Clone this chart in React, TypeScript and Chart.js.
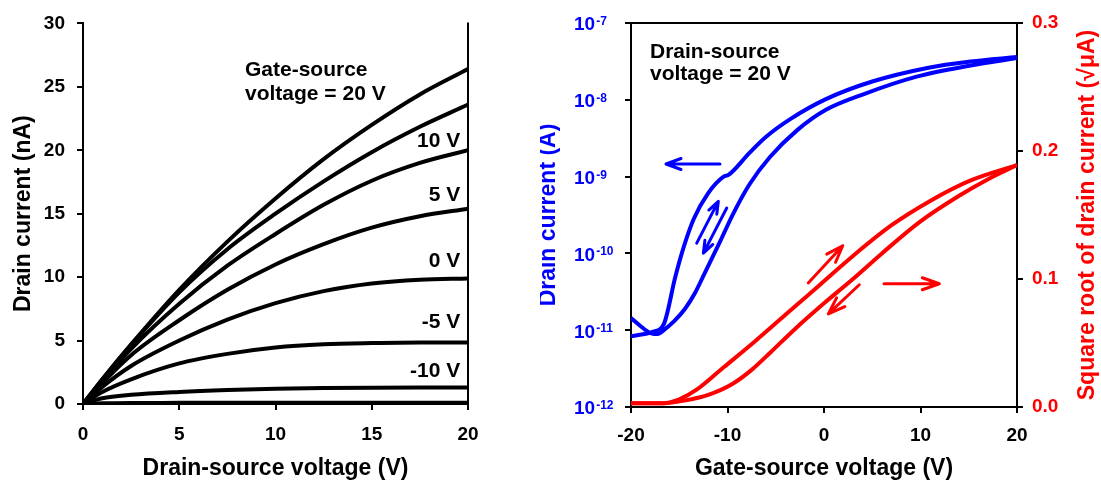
import React, { useEffect, useRef } from 'react';
import { Chart, registerables } from 'chart.js';

Chart.register(...registerables);

const FONT = '"Liberation Sans", Arial, Helvetica, sans-serif';
const BLUE = '#0000FF';
const RED = '#FF0000';

// ---------- Left chart: output characteristics ----------
const vdsPoints = [0, 1, 2.5, 5, 7.5, 10, 12.5, 15, 17.5, 20];
const idGate20 = [0, 1.95, 4.7, 9.0, 12.8, 16.2, 19.3, 22.0, 24.4, 26.4];
const idGate15 = [0, 1.92, 4.65, 8.8, 12.2, 15.0, 17.55, 19.85, 21.85, 23.6];
const idGate10 = [0, 1.8, 4.35, 7.9, 10.9, 13.4, 15.7, 17.6, 19.0, 20.0];
const idGate5 = [0, 1.65, 3.85, 6.6, 9.0, 11.0, 12.6, 13.9, 14.8, 15.4];
const idGate0 = [0, 1.35, 3.0, 5.0, 6.65, 7.95, 8.9, 9.5, 9.8, 9.9];
const idGateM5 = [0, 0.95, 1.95, 3.2, 3.95, 4.45, 4.7, 4.8, 4.85, 4.85];
const idGateM10 = [0, 0.45, 0.72, 0.95, 1.1, 1.2, 1.26, 1.29, 1.3, 1.3];
const idGateM15 = [0, 0.05, 0.08, 0.09, 0.1, 0.1, 0.1, 0.1, 0.1, 0.1];
const outputSeries = [idGate20, idGate15, idGate10, idGate5, idGate0, idGateM5, idGateM10, idGateM15];

const leftXTicks = [0, 5, 10, 15, 20];
const leftYTicks = [0, 5, 10, 15, 20, 25, 30];
const curveLabels = ['10 V', '5 V', '0 V', '-5 V', '-10 V'];
const curveLabelY = [20.27, 15.97, 10.76, 5.97, 2.16];
const curveLabelX = 19.6;

// ---------- Right chart: transfer characteristics ----------
const fwdVgs = [-20, -17.7, -16.6, -15.4, -14.5, -13.5, -12, -10.4, -9.9, -7.7, -6, -3.5, 0.2, 5, 10.7, 15.2, 20];
const fwdId = [8.3e-12, 9.6e-12, 1.2e-11, 5e-11, 1.25e-10, 2.8e-10, 6.1e-10, 1.0e-9, 1.05e-9, 2.05e-9, 3.3e-9, 5.6e-9, 1.02e-8, 1.73e-8, 2.6e-8, 3.15e-8, 3.6e-8];
const revVgs = [-20, -18.9, -17.9, -17.2, -16.6, -15.5, -14.4, -13.4, -12.4, -10.8, -9.4, -7.7, -5.6, -2.8, 0.2, 4, 9.6, 15.2, 20];
const revId = [1.44e-11, 1.1e-11, 9.1e-12, 8.9e-12, 1.0e-11, 1.32e-11, 1.9e-11, 3.0e-11, 5.4e-11, 1.4e-10, 3.3e-10, 8.0e-10, 1.8e-9, 4.0e-9, 7.4e-9, 1.17e-8, 2.0e-8, 2.8e-8, 3.5e-8];

const fwdSqrtVgs = [-20, -16.6, -15, -13.2, -10.4, -7.2, -4, -0.5, 3, 7, 11, 15.2, 20];
const fwdSqrt = [0.003, 0.003, 0.006, 0.0135, 0.031, 0.051, 0.072, 0.095, 0.118, 0.142, 0.161, 0.177, 0.189];
const revSqrtVgs = [-20, -16.6, -14.5, -12, -9.5, -7.5, -5.5, -3, 0, 3, 6, 10, 14, 17, 20];
const revSqrt = [0.003, 0.003, 0.005, 0.0095, 0.018, 0.029, 0.043, 0.061, 0.081, 0.1, 0.12, 0.145, 0.165, 0.178, 0.189];

const rightXTicks = [-20, -10, 0, 10, 20];
const logDecades = [-12, -11, -10, -9, -8, -7];
const sqrtTicks = [0, 0.1, 0.2, 0.3];

// arrows: [x1, y1, x2, y2] in data units (tip at x2,y2)
const blueArrows = [
  [-10.78, 1.46e-9, -16.37, 1.46e-9],
  [-13.19, 1.36e-10, -10.95, 4.75e-10],
  [-10.08, 3.9e-10, -12.5, 1.01e-10],
];
const redArrows = [
  [-1.63, 0.0969, 1.94, 0.126],
  [3.66, 0.0955, 0.45, 0.0727],
  [6.22, 0.0963, 11.95, 0.0963],
];

const tickFont = { family: FONT, size: 19, weight: 'bold' as const };

function drawArrow(ctx: CanvasRenderingContext2D, x1: number, y1: number, x2: number, y2: number, color: string, head: number, half: number) {
  const ang = Math.atan2(y2 - y1, x2 - x1);
  const cos = Math.cos(ang), sin = Math.sin(ang);
  const bx = x2 - head * cos, by = y2 - head * sin;
  ctx.strokeStyle = color;
  ctx.lineWidth = 3;
  ctx.lineCap = 'round';
  ctx.lineJoin = 'round';
  ctx.beginPath();
  ctx.moveTo(x1, y1);
  ctx.lineTo(x2, y2);
  ctx.moveTo(bx - half * sin, by + half * cos);
  ctx.lineTo(x2, y2);
  ctx.lineTo(bx + half * sin, by - half * cos);
  ctx.stroke();
}

const leftPlugin = {
  id: 'leftDecor',
  afterDraw(chart: any) {
    const { ctx, chartArea: a, scales } = chart;
    const x = scales.x, y = scales.y;
    ctx.save();
    ctx.strokeStyle = '#000';
    ctx.lineWidth = 2;
    ctx.beginPath();
    ctx.moveTo(a.right, a.top - 1);
    ctx.lineTo(a.right, a.bottom);
    ctx.stroke();

    ctx.fillStyle = '#000';
    ctx.font = `bold 21px ${FONT}`;
    ctx.textAlign = 'left';
    ctx.textBaseline = 'alphabetic';
    ctx.fillText('Gate-source', a.left + 162, a.top + 53);
    ctx.fillText('voltage = 20 V', a.left + 162, a.top + 77);

    ctx.textAlign = 'right';
    curveLabels.forEach((t, i) => {
      ctx.fillText(t, x.getPixelForValue(curveLabelX), y.getPixelForValue(curveLabelY[i]));
    });

    ctx.font = `bold 23px ${FONT}`;
    ctx.textAlign = 'center';
    ctx.fillText('Drain-source voltage (V)', (a.left + a.right) / 2, a.bottom + 71);

    ctx.translate(30, (a.top + a.bottom) / 2);
    ctx.rotate(-Math.PI / 2);
    ctx.fillText('Drain current (nA)', 0, 0);
    ctx.restore();
  },
};

const rightPlugin = {
  id: 'rightDecor',
  afterDraw(chart: any) {
    const { ctx, chartArea: a, scales } = chart;
    const x = scales.x, y = scales.y, y2 = scales.y2;
    ctx.save();
    ctx.strokeStyle = '#000';
    ctx.lineWidth = 2;
    ctx.beginPath();
    ctx.moveTo(a.left - 1, a.top);
    ctx.lineTo(a.right + 1, a.top);
    ctx.stroke();

    // log tick labels with superscripts
    ctx.fillStyle = BLUE;
    ctx.textAlign = 'left';
    ctx.textBaseline = 'alphabetic';
    logDecades.forEach((e) => {
      const py = y.getPixelForValue(Math.pow(10, e));
      const x0 = a.left - 57;
      ctx.font = `bold 19px ${FONT}`;
      ctx.fillText('10', x0, py + 7.4);
      const w = ctx.measureText('10').width;
      ctx.font = `bold 12px ${FONT}`;
      ctx.fillText(String(e), x0 + w + 1, py + 2);
    });

    // annotation text
    ctx.fillStyle = '#000';
    ctx.font = `bold 21px ${FONT}`;
    ctx.fillText('Drain-source', a.left + 19, a.top + 34.5);
    ctx.fillText('voltage = 20 V', a.left + 19, a.top + 57);

    // arrows
    blueArrows.forEach(([x1, v1, x2, v2], i) => {
      drawArrow(ctx, x.getPixelForValue(x1), y.getPixelForValue(v1), x.getPixelForValue(x2), y.getPixelForValue(v2), BLUE, i === 0 ? 15 : 12, i === 0 ? 5.5 : 4.5);
    });
    redArrows.forEach(([x1, v1, x2, v2]) => {
      drawArrow(ctx, x.getPixelForValue(x1), y2.getPixelForValue(v1), x.getPixelForValue(x2), y2.getPixelForValue(v2), RED, 17, 6);
    });

    // axis titles
    ctx.font = `bold 23px ${FONT}`;
    ctx.textAlign = 'center';
    ctx.fillText('Gate-source voltage (V)', (a.left + a.right) / 2, a.bottom + 68);

    const midY = (a.top + a.bottom) / 2;
    ctx.save();
    ctx.fillStyle = BLUE;
    ctx.translate(15, midY);
    ctx.rotate(-Math.PI / 2);
    ctx.fillText('Drain current (A)', 0, 0);
    ctx.restore();

    ctx.save();
    ctx.fillStyle = RED;
    ctx.translate(553.5, midY);
    ctx.rotate(-Math.PI / 2);
    ctx.fillText('Square root of drain current (\u221A\u03BCA)', 0, 0);
    ctx.restore();

    ctx.restore();
  },
};

const axisGrid = { display: true, drawOnChartArea: false, drawTicks: true, tickLength: 6, color: '#000', lineWidth: 2 };
const axisBorder = { display: true, color: '#000', width: 2 };

function leftConfig(): any {
  return {
    type: 'line',
    data: {
      datasets: outputSeries.map((s) => ({
        data: vdsPoints.map((v, i) => ({ x: v, y: s[i] })),
        borderColor: '#000',
        borderWidth: 4,
        pointRadius: 0,
        cubicInterpolationMode: 'monotone',
        fill: false,
      })),
    },
    options: {
      responsive: false,
      animation: false,
      events: [],
      layout: { padding: { left: 0, right: 72, top: 21, bottom: 0 } },
      plugins: { legend: { display: false }, tooltip: { enabled: false }, title: { display: false } },
      scales: {
        x: {
          type: 'linear', min: 0, max: 20,
          afterBuildTicks: (s: any) => { s.ticks = leftXTicks.map((v) => ({ value: v })); },
          afterFit: (s: any) => { s.height = 79; },
          ticks: { font: tickFont, color: '#000', padding: 13, maxRotation: 0, autoSkip: false },
          grid: axisGrid, border: axisBorder,
        },
        y: {
          type: 'linear', min: 0, max: 30,
          afterBuildTicks: (s: any) => { s.ticks = leftYTicks.map((v) => ({ value: v })); },
          afterFit: (s: any) => { s.width = 83; },
          ticks: { font: tickFont, color: '#000', padding: 12, autoSkip: false },
          grid: axisGrid, border: axisBorder,
        },
      },
    },
    plugins: [leftPlugin],
  };
}

function rightConfig(): any {
  const line = (xs: number[], ys: number[], color: string, axis: string) => ({
    data: xs.map((v, i) => ({ x: v, y: ys[i] })),
    borderColor: color,
    borderWidth: 4,
    pointRadius: 0,
    cubicInterpolationMode: 'monotone',
    fill: false,
    yAxisID: axis,
  });
  return {
    type: 'line',
    data: {
      datasets: [
        line(fwdVgs, fwdId, BLUE, 'y'),
        line(revVgs, revId, BLUE, 'y'),
        line(fwdSqrtVgs, fwdSqrt, RED, 'y2'),
        line(revSqrtVgs, revSqrt, RED, 'y2'),
      ],
    },
    options: {
      responsive: false,
      animation: false,
      events: [],
      layout: { padding: { left: 0, right: 0, top: 23, bottom: 0 } },
      plugins: { legend: { display: false }, tooltip: { enabled: false }, title: { display: false } },
      scales: {
        x: {
          type: 'linear', min: -20, max: 20,
          afterBuildTicks: (s: any) => { s.ticks = rightXTicks.map((v) => ({ value: v })); },
          afterFit: (s: any) => { s.height = 76; },
          ticks: { font: tickFont, color: '#000', padding: 11, maxRotation: 0, autoSkip: false },
          grid: axisGrid, border: axisBorder,
        },
        y: {
          type: 'logarithmic', position: 'left', min: 1e-12, max: 1e-7,
          afterBuildTicks: (s: any) => { s.ticks = logDecades.map((e) => ({ value: Math.pow(10, e) })); },
          afterFit: (s: any) => { s.width = 91; },
          ticks: { display: false },
          grid: axisGrid, border: axisBorder,
        },
        y2: {
          type: 'linear', position: 'right', min: 0, max: 0.3,
          afterBuildTicks: (s: any) => { s.ticks = sqrtTicks.map((v) => ({ value: v })); },
          afterFit: (s: any) => { s.width = 84; },
          ticks: { font: tickFont, color: RED, padding: 9, autoSkip: false, callback: (v: any) => Number(v).toFixed(1) },
          grid: axisGrid, border: axisBorder,
        },
      },
    },
    plugins: [rightPlugin],
  };
}

export default function App() {
  const leftRef = useRef<HTMLCanvasElement>(null);
  const rightRef = useRef<HTMLCanvasElement>(null);
  useEffect(() => {
    Chart.defaults.font.family = FONT;
    const c1 = new Chart(leftRef.current as HTMLCanvasElement, leftConfig());
    const c2 = new Chart(rightRef.current as HTMLCanvasElement, rightConfig());
    return () => {
      c1.destroy();
      c2.destroy();
    };
  }, []);
  return (
    <div style={{ position: 'absolute', left: 0, top: 0, width: 1101, height: 483, background: '#fff' }}>
      <canvas ref={leftRef} width={540} height={483} style={{ position: 'absolute', left: 0, top: 0, width: 540, height: 483 }} />
      <canvas ref={rightRef} width={561} height={483} style={{ position: 'absolute', left: 540, top: 0, width: 561, height: 483 }} />
    </div>
  );
}
